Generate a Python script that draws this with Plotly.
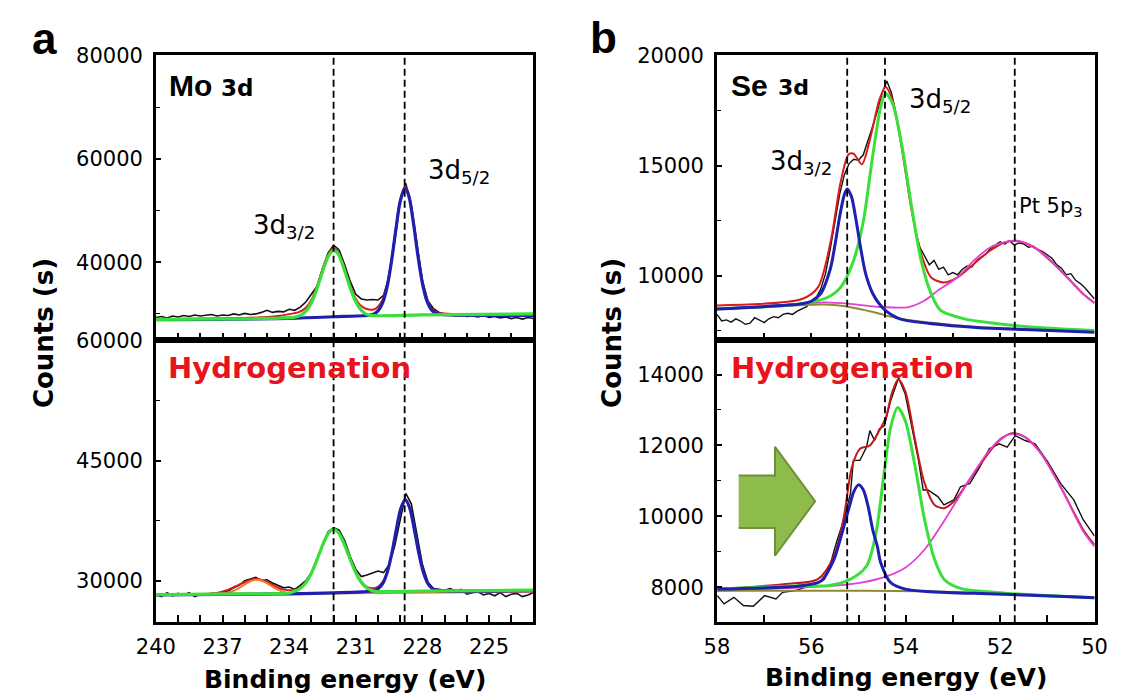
import plotly.graph_objects as go

W, H = 1125, 698

# ---------------- Mo 3d, pristine (top left) ----------------
mo_be = [240.00, 239.75, 239.50, 239.25, 239.00, 238.75, 238.50, 238.25, 238.00, 237.75,
         237.50, 237.25, 237.00, 236.75, 236.50, 236.25, 236.00, 235.75, 235.50, 235.25,
         235.00, 234.75, 234.50, 234.25, 234.00, 233.75, 233.50, 233.25, 233.00, 232.75,
         232.50, 232.25, 232.00, 231.75, 231.50, 231.25, 231.00, 230.75, 230.50, 230.25,
         230.00, 229.75, 229.50, 229.25, 229.00, 228.75, 228.50, 228.25, 228.00, 227.75,
         227.50, 227.25, 227.00, 226.75, 226.50, 226.25, 226.00, 225.75, 225.50, 225.25,
         225.00, 224.75, 224.50, 224.25, 224.00, 223.75, 223.50, 223.25, 223.00]
mo_raw = [29300, 29500, 29200, 29600, 29400, 29700, 29500, 29800, 29600, 29700,
          29900, 29600, 29800, 29700, 30000, 29800, 30100, 29900, 30000, 30300,
          30700, 30300, 30500, 30400, 30900, 30700, 31300, 32300, 33700, 35300,
          38800, 41800, 43300, 42400, 39500, 36300, 33800, 32900, 32700, 32800,
          32700, 33600, 37300, 44000, 52000, 55300, 51000, 43300, 36500, 32500,
          31000, 30300, 29900, 29800, 29600, 29700, 29500, 29600, 29400, 29700,
          29300, 29500, 29200, 29400, 29100, 29300, 29000, 29300, 29100]

mo_env_be = [240, 236, 234.5, 234, 233.6, 233.4, 233.2, 233.0, 232.8, 232.6, 232.4, 232.2,
             232.0, 231.8, 231.6, 231.4, 231.2, 231.0, 230.8, 230.6, 230.4, 230.2, 230.0,
             229.8, 229.6, 229.4, 229.2, 229.0, 228.78, 228.6, 228.4, 228.2, 228.0, 227.8,
             227.6, 227.4, 227, 223]
mo_env = [29000, 29200, 29600, 29950, 30300, 30700, 31400, 32700, 34700, 37200, 39800, 41800,
          42650, 42000, 40000, 37400, 34900, 32900, 31700, 31100, 30850, 30850, 31400,
          32700, 35500, 40300, 46500, 52100, 54800, 53000, 47800, 41500, 36200, 32800,
          31100, 30400, 30100, 29900]

mo32_be = [240, 236, 235, 234.4, 233.8, 233.6, 233.4, 233.2, 233.0, 232.8, 232.6, 232.4, 232.2,
           232.0, 231.8, 231.6, 231.4, 231.2, 231.0, 230.8, 230.6, 230.4, 230.0, 228, 223]
mo32 = [28950, 29050, 29120, 29200, 29330, 29530, 29940, 30750, 32150, 34220, 36800, 39440, 41450,
        42300, 41650, 39640, 37000, 34420, 32350, 30950, 30140, 29730, 29650, 29800, 30000]

mo52_be = [240, 234, 232, 230.4, 230.2, 230.0, 229.8, 229.6, 229.4, 229.2, 229.0, 228.78,
           228.6, 228.4, 228.2, 228.0, 227.8, 227.6, 227.4, 227, 223]
mo52 = [28900, 29150, 29450, 29750, 29950, 30600, 32060, 35040, 39980, 46200, 51800, 54400,
        52630, 47460, 41170, 35900, 32500, 30800, 30100, 29850, 29700]

# ---------------- Mo 3d, hydrogenated (bottom left) ----------------
moh_raw = [28300, 28000, 28500, 28100, 28400, 28200, 28500, 28000, 28300, 28200,
           28400, 28300, 28600, 28700, 29100, 29400, 30000, 30200, 30400, 30000,
           30100, 29700, 29400, 29100, 29200, 28900, 29400, 30000, 31000, 32700,
           34600, 36100, 36600, 36300, 35000, 33000, 31400, 30500, 30700, 31000,
           31200, 31000, 32000, 34300, 37800, 40900, 39600, 35900, 32000, 29800,
           29000, 28900, 28800, 29000, 28700, 28900, 28300, 28500, 28600, 28200,
           28400, 28100, 28500, 28000, 28300, 28400, 28000, 28200, 28500]

moh_env_be = [240, 237.6, 237.2, 236.8, 236.4, 236.0, 235.7, 235.45, 235.2, 234.9, 234.6,
              234.3, 234.0, 233.8, 233.6, 233.4, 233.2, 233.0, 232.8, 232.6, 232.4, 232.2,
              232.0, 231.8, 231.6, 231.4, 231.2, 231.0, 230.8, 230.6, 230.4, 230.2, 229.97,
              229.77, 229.57, 229.37, 229.17, 228.97, 228.77, 228.57, 228.37, 228.17, 227.97,
              227.77, 227.57, 227.37, 227.0, 223]
moh_env = [28250, 28350, 28500, 28800, 29300, 29800, 30100, 30200, 30050, 29700, 29250,
           28900, 28800, 28800, 28950, 29350, 30000, 30980, 32250, 33700, 35060, 36060,
           36420, 36080, 35100, 33750, 32300, 31020, 30060, 29420, 29100, 29050, 29300,
           29900, 31300, 33600, 36520, 39080, 40120, 39080, 36500, 33550, 31200,
           29760, 29080, 28800, 28750, 28800]

moh_ox_be = [240, 237.4, 237.0, 236.6, 236.2, 235.9, 235.6, 235.45, 235.2, 234.9, 234.6, 234.3,
             233.9, 233.0, 223]
moh_ox = [28250, 28360, 28410, 28620, 29150, 29680, 30065, 30120, 29970, 29500, 28990, 28620,
          28410, 28400, 28600]

moh32_be = [240, 236, 234, 233.8, 233.6, 233.4, 233.2, 233.0, 232.8, 232.6, 232.4, 232.2, 232.0,
            231.8, 231.6, 231.4, 231.2, 231.0, 230.8, 230.6, 230.4, 230.2, 230.0, 228, 223]
moh32 = [28250, 28350, 28450, 28630, 28850, 29250, 29920, 30920, 32210, 33670, 35040, 36040, 36400,
         36060, 35080, 33720, 32260, 30970, 29980, 29300, 28910, 28700, 28620, 28700, 28800]

moh52_be = [240, 234, 231, 230.17, 229.97, 229.77, 229.57, 229.37, 229.17, 228.97, 228.77,
            228.57, 228.37, 228.17, 227.97, 227.77, 227.57, 227.37, 227.0, 223]
moh52 = [28200, 28350, 28550, 28760, 29030, 29710, 31150, 33510, 36470, 39040, 40080,
         39040, 36470, 33510, 31150, 29710, 29030, 28760, 28700, 28750]

# ---------------- Se 3d, pristine (top right) ----------------
se_be = [58.0, 57.9, 57.8, 57.7, 57.6, 57.5, 57.4, 57.3, 57.2, 57.1, 57.0, 56.9, 56.8, 56.7,
         56.6, 56.5, 56.4, 56.3, 56.2, 56.1, 56.0, 55.9, 55.8, 55.7, 55.6, 55.5, 55.4, 55.3,
         55.2, 55.1, 55.0, 54.9, 54.8, 54.7, 54.6, 54.5, 54.4, 54.3, 54.2, 54.1, 54.0, 53.9,
         53.8, 53.7, 53.6, 53.5, 53.4, 53.3, 53.2, 53.1, 53.0, 52.9, 52.8, 52.7, 52.6, 52.5,
         52.4, 52.3, 52.2, 52.1, 52.0, 51.9, 51.8, 51.7, 51.6, 51.5, 51.4, 51.3, 51.2, 51.1,
         51.0, 50.9, 50.8, 50.7, 50.6, 50.5, 50.4, 50.3, 50.2, 50.1, 50.0]
se_raw = [8250, 7950, 8000, 7900, 8050, 7950, 7800, 7850, 8100, 8000, 7880, 8050, 8150, 8100,
          8250, 8300, 8250, 8400, 8500, 8600, 8850, 9000, 9400, 10100, 11200, 12500, 13700, 14600,
          15100, 15300, 15250, 15500, 16100, 16800, 17500, 18300, 18850, 18300, 17300, 16200, 14900, 13400,
          12100, 11300, 10900, 10500, 10700, 10300, 10400, 10050, 10150, 10050, 10300, 10450, 10400, 10700,
          10850, 11000, 11250, 11400, 11550, 11450, 11600, 11400, 11500, 11450, 11300, 11350, 11200, 11100,
          10950, 10800, 10500, 10350, 10050, 10100, 9800, 9650, 9450, 9200, 8950]

se_env_be = [58.0, 56.2, 55.86, 55.59, 55.38, 55.21, 55.11, 54.93, 54.76, 54.56, 54.43, 54.28,
             54.08, 53.87, 53.67, 53.46, 53.19, 52.91, 52.57, 52.23, 51.88, 51.61, 51.26, 50.85,
             50.51, 50.24, 50.0]
se_env = [8660, 8950, 9480, 11570, 14250, 15520, 15560, 15075, 16190, 17985, 18580, 17985,
          15750, 12910, 10970, 9925, 9700, 9925, 10520, 11120, 11540, 11570, 11270, 10520,
          9780, 9180, 8770]

se32_be = [58.0, 56.2, 56.0, 55.8, 55.6, 55.5, 55.4, 55.3, 55.24, 55.15, 55.05, 54.95, 54.85,
           54.7, 54.55, 54.4, 54.2, 54.0, 53.5, 52.5, 51.5, 50.0]
se32 = [8500, 8730, 8850, 9200, 10300, 11400, 12700, 13700, 13950, 13600, 12500, 11200, 10100,
        9200, 8700, 8380, 8120, 7980, 7840, 7660, 7560, 7440]

se52_be = [58.0, 56.2, 55.65, 55.38, 55.11, 54.9, 54.7, 54.53, 54.43, 54.28, 54.08, 53.87,
           53.67, 53.46, 53.26, 52.78, 52.09, 51.40, 50.24, 50.0]
se52 = [8500, 8730, 9030, 9480, 10670, 12460, 15450, 17690, 18280, 17840, 15900, 13060,
        10670, 9180, 8430, 8060, 7840, 7690, 7540, 7520]

se_pt_be = [58.0, 56.2, 55.72, 55.17, 54.49, 53.94, 53.6, 53.32, 52.91, 52.57, 52.23, 51.88,
            51.64, 51.40, 51.06, 50.71, 50.24, 50.0]
se_pt = [8500, 8730, 8800, 8730, 8580, 8580, 8880, 9330, 9925, 10670, 11270, 11540,
         11600, 11420, 10970, 10220, 9180, 8770]

se_bg_be = [58.0, 56.9, 55.72, 55.17, 54.69, 54.15, 53.46, 52.5, 51.0, 50.0]
se_bg = [8500, 8600, 8700, 8580, 8360, 8060, 7870, 7680, 7530, 7440]

# ---------------- Se 3d, hydrogenated (bottom right) ----------------
seh_be = [57.99, 57.85, 57.64, 57.44, 57.23, 56.99, 56.75, 56.61, 56.34, 55.93, 55.72, 55.59,
          55.45, 55.31, 55.17, 55.11, 54.97, 54.83, 54.76, 54.66, 54.56, 54.45, 54.32, 54.15,
          54.01, 53.87, 53.73, 53.63, 53.53, 53.32, 53.19, 52.98, 52.84, 52.64, 52.43, 52.23,
          52.02, 51.85, 51.68, 51.47, 51.26, 50.99, 50.72, 50.44, 50.24, 50.0]
seh_raw = [7769, 7536, 7722, 7490, 7471, 7769, 7676, 7862, 7909, 8095, 8234, 8699,
           9350, 9908, 10652, 11582, 11582, 11954, 12419, 12140, 12466, 12559, 13256, 13907,
           13442, 12512, 11582, 10745, 10745, 10559, 10326, 10466, 10838, 10931, 11396, 11908,
           12047, 11954, 12280, 12140, 12047, 11536, 10931, 10466, 9908, 9450]

seh_env_be = [57.99, 56.55, 55.86, 55.52, 55.31, 55.14, 54.97, 54.76, 54.56, 54.42, 54.29,
              54.16, 54.01, 53.8, 53.6, 53.39, 53.19, 52.98, 52.7, 52.36, 52.02, 51.75, 51.47,
              51.13, 50.72, 50.24, 50.0]
seh_env = [7955, 8095, 8234, 8885, 10000, 11395, 11908, 12000, 12419, 12791, 13488,
           13860, 13535, 12140, 10931, 10326, 10233, 10419, 10931, 11582, 12140, 12345, 12233,
           11768, 10838, 9628, 9200]

seh32_be = [57.99, 56.2, 55.79, 55.52, 55.4, 55.31, 55.2, 55.1, 55.0, 54.9, 54.8, 54.7, 54.6,
            54.53, 54.32, 54.01, 53.46, 52.09, 50.24, 50.0]
seh32 = [7955, 8050, 8186, 8791, 9300, 9721, 10250, 10700, 10890, 10750, 10300, 9628, 9150,
         8698, 8140, 7953, 7880, 7814, 7721, 7710]

seh52_be = [57.99, 56.2, 55.65, 55.17, 54.83, 54.63, 54.46, 54.32, 54.17, 54.01, 53.8, 53.6,
            53.39, 53.19, 52.84, 52.09, 50.24, 50.0]
seh52 = [7955, 8050, 8046, 8233, 8605, 9535, 11209, 12512, 13070, 12698, 11395, 9907,
         8791, 8233, 7972, 7860, 7721, 7710]

seh_pt_be = [57.99, 56.2, 55.17, 54.49, 54.01, 53.6, 53.26, 52.91, 52.57, 52.23, 51.95, 51.71,
             51.47, 51.13, 50.72, 50.24, 50.0]
seh_pt = [7907, 8000, 8093, 8279, 8558, 9070, 9721, 10465, 11209, 11860, 12233, 12326,
          12233, 11768, 10838, 9581, 9150]

seh_bg_be = [58.0, 55.0, 53.5, 52.0, 50.0]
seh_bg = [7907, 7907, 7890, 7820, 7720]

# binding energies of the dashed guide lines
mo_lines = [232.0, 228.8]
se_lines = [55.24, 54.44, 51.69]

# shift arrow outline in the hydrogenated Se panel (eV, counts)
arrow_be = [57.54, 56.77, 56.77, 55.92, 56.77, 56.77, 57.54]
arrow_ct = [11153, 11153, 11963, 10428, 8893, 9674, 9674]

BLACK = "#111111"
RED = "#d81c1c"
GREEN = "#3adf3a"
BLUE = "#1f1fb0"
MAGENTA = "#e040d8"
ORANGE = "#f07a2a"
OLIVE = "#8e8a30"


def px(x):
    return x / W


def py(y):
    return 1 - y / H


fig = go.Figure()


def add_line(xs, ys, color, width, axis, shape="spline"):
    fig.add_trace(go.Scatter(
        x=xs, y=ys, mode="lines", xaxis="x" + axis, yaxis="y" + axis,
        line=dict(color=color, width=width, shape=shape, smoothing=0.8 if shape == "spline" else None),
        showlegend=False, hoverinfo="skip"))


# top left
add_line(mo_be, mo_raw, BLACK, 1.6, "", "linear")
add_line(mo_env_be, mo_env, RED, 2, "")
add_line(mo52_be, mo52, BLUE, 3.2, "")
add_line(mo32_be, mo32, GREEN, 3.2, "")
# bottom left
add_line(mo_be, moh_raw, BLACK, 1.6, "2", "linear")
add_line(moh_env_be, moh_env, RED, 2, "2")
add_line(moh_ox_be, moh_ox, ORANGE, 2, "2")
add_line(moh52_be, moh52, BLUE, 3.2, "2")
add_line(moh32_be, moh32, GREEN, 3.2, "2")
# top right
add_line(se_be, se_raw, BLACK, 1.4, "3", "linear")
add_line(se_env_be, se_env, RED, 2, "3")
add_line(se_pt_be, se_pt, MAGENTA, 1.8, "3")
add_line(se_bg_be, se_bg, OLIVE, 2, "3")
add_line(se52_be, se52, GREEN, 3, "3")
add_line(se32_be, se32, BLUE, 3, "3")
# bottom right
add_line(seh_be, seh_raw, BLACK, 1.4, "4", "linear")
add_line(seh_env_be, seh_env, "#c81818", 2, "4")
add_line(seh_pt_be, seh_pt, MAGENTA, 1.8, "4")
add_line(seh_bg_be, seh_bg, OLIVE, 2, "4")
add_line(seh52_be, seh52, GREEN, 3, "4")
add_line(seh32_be, seh32, BLUE, 3, "4")

# arrow
fig.add_trace(go.Scatter(
    x=arrow_be, y=arrow_ct, mode="lines", fill="toself", xaxis="x4", yaxis="y4",
    fillcolor="#8dbb4c", line=dict(color="#6f8f3a", width=2), showlegend=False, hoverinfo="skip"))

# panel geometry in pixels
LX0, LX1 = 140, 529
RX0, RX1 = 718, 1107
TY0, MID, BY1 = 45, 334, 621

DJ = "DejaVu Sans"
tick_font = dict(family=DJ, size=21, color="black")


def xaxis(x0, x1, rng, dtick, tick0, anchor, labels):
    return dict(domain=[px(x0), px(x1)], range=rng, anchor=anchor,
                showline=True, linecolor="black", linewidth=2.6, mirror=True,
                ticks="inside", ticklen=7, tickwidth=1.6, tickcolor="black",
                dtick=dtick, tick0=tick0, showgrid=False, zeroline=False,
                showticklabels=labels, tickfont=tick_font, ticklabelstandoff=4,
                minor=dict(dtick=1, ticks="inside", ticklen=7, tickwidth=1.6, tickcolor="black"))


def yaxis(y0, y1, rng, dtick, anchor):
    return dict(domain=[py(y1), py(y0)], range=rng, anchor=anchor,
                showline=True, linecolor="black", linewidth=2.6, mirror=True,
                ticks="inside", ticklen=5, tickwidth=1.6, tickcolor="black",
                dtick=dtick, tick0=0, showgrid=False, zeroline=False,
                tickformat="d", tickfont=tick_font, ticklabelstandoff=6,
                minor=dict(dtick=dtick / 2, ticks="inside", ticklen=4, tickwidth=1.4, tickcolor="black"))


fig.update_layout(
    width=W, height=H, margin=dict(l=0, r=0, t=0, b=0),
    paper_bgcolor="white", plot_bgcolor="white",
    xaxis=xaxis(LX0, LX1, [240, 223], 3, 225, "y", False),
    yaxis=yaxis(TY0, MID, [25000, 80100], 20000, "x"),
    xaxis2=xaxis(LX0, LX1, [240, 223], 3, 225, "y2", True),
    yaxis2=yaxis(MID, BY1, [24800, 60100], 15000, "x2"),
    xaxis3=xaxis(RX0, RX1, [58, 50], 2, 50, "y3", False),
    yaxis3=yaxis(TY0, MID, [7100, 20020], 5000, "x3"),
    xaxis4=xaxis(RX0, RX1, [58, 50], 2, 50, "y4", True),
    yaxis4=yaxis(MID, BY1, [7020, 14980], 2000, "x4"),
)

shapes = []
for ax in ["", "2"]:
    for be in mo_lines:
        shapes.append(dict(type="line", xref="x" + ax, yref="y" + ax + " domain", x0=be, x1=be,
                           y0=0, y1=1, line=dict(color="black", width=1.8, dash="7px,4px")))
for ax in ["3", "4"]:
    for be in se_lines:
        shapes.append(dict(type="line", xref="x" + ax, yref="y" + ax + " domain", x0=be, x1=be,
                           y0=0, y1=1, line=dict(color="black", width=1.8, dash="7px,4px")))
fig.update_layout(shapes=shapes)

ann = []


def text(t, x, y, size, family=DJ, color="black", xanchor="left", angle=0, yanchor="middle"):
    ann.append(dict(text=t, x=px(x), y=py(y), xref="paper", yref="paper", showarrow=False,
                    xanchor=xanchor, yanchor=yanchor, textangle=angle,
                    font=dict(family=family, size=size, color=color)))


text("<b>a</b>", 10, 28, 44, family="Liberation Sans, Arial")
text("<b>b</b>", 585, 27, 44, family="Liberation Sans, Arial")
text("<b>Counts (s)</b>", 25, 327, 26, xanchor="center", angle=-90)
text("<b>Counts (s)</b>", 610, 327, 26, xanchor="center", angle=-90)
text("<b>Binding energy (eV)</b>", (LX0 + LX1) / 2, 679, 25, xanchor="center")
text("<b>Binding energy (eV)</b>", (RX0 + RX1) / 2, 677, 25, xanchor="center")

text("<b>Mo</b>", 151, 76, 30, family="Liberation Sans, Arial")
text("<b>3d</b>", 205, 78, 23)
text("<b>Se</b>", 730, 76, 30, family="Liberation Sans, Arial")
text("<b>3d</b>", 779, 78, 22)

text("3d<sub>3/2</sub>", 238, 219, 26)
text("3d<sub>5/2</sub>", 418, 163, 26)
text("3d<sub>3/2</sub>", 771, 154, 26)
text("3d<sub>5/2</sub>", 914, 91, 26)
text("Pt 5p<sub>3</sub>", 1027, 199, 21)

text("<b>Hydrogenation</b>", 150, 363, 29, color="#e8141c")
text("<b>Hydrogenation</b>", 730, 363, 29, color="#e8141c")

fig.update_layout(annotations=ann)

fig.write_html("out.html")
